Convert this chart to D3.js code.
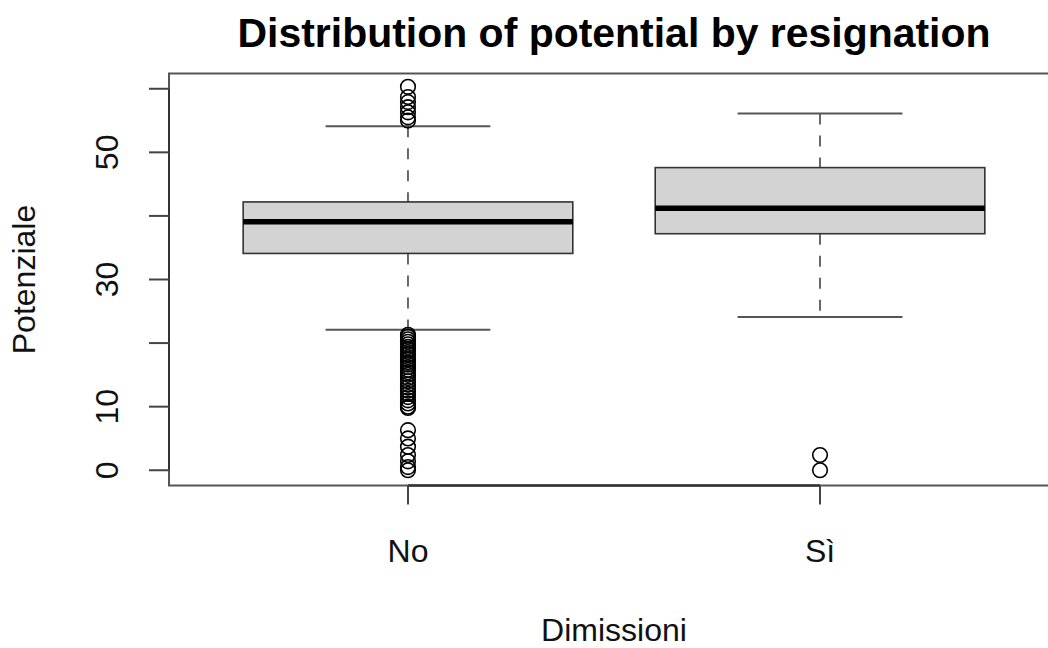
<!DOCTYPE html>
<html>
<head>
<meta charset="utf-8">
<script src="https://cdn.jsdelivr.net/npm/d3@7"></script>
<style>
  html, body { margin: 0; padding: 0; background: #fff; }
  svg { display: block; font-family: "Liberation Sans", Arial, Helvetica, sans-serif; }
</style>
</head>
<body>
<svg id="chart" width="1048" height="648"></svg>
<script>
// Groups on the x axis
const groups = ["No", "Sì"];
// Box statistics per group: lower whisker, Q1, median, Q3, upper whisker
const lowerWhisker = [22.1, 24.1];
const q1 = [34.1, 37.2];
const median = [39.1, 41.2];
const q3 = [42.2, 47.6];
const upperWhisker = [54.1, 56.1];
// Points beyond the whiskers
const outliersNo = [60.3, 58.7, 57.9, 57.1, 56.3, 55.5, 55.0,
  21.3, 21.0, 20.6, 20.2, 19.8, 19.4, 19.0, 18.6, 18.2, 17.8, 17.4, 17.0,
  16.6, 16.2, 15.8, 15.4, 15.0, 14.5, 14.0, 13.5, 13.0, 12.5, 12.0, 11.5,
  11.0, 10.5, 10.0, 9.8,
  6.3, 5.0, 3.7, 2.4, 1.4, 0.5, 0.0];
const outliersSi = [2.4, 0.0];
const outliers = [outliersNo, outliersSi];
// Axis ticks
const yTicks = [0, 10, 20, 30, 40, 50, 60];
const yTickLabels = ["0", "10", "", "30", "", "50", ""];

const svg = d3.select("#chart");

// Plot region (extends past the right edge of the page)
const plotLeft = 169, plotRight = 1059, plotTop = 73.5, plotBottom = 485.5;

const x = d3.scaleLinear().domain([0.42, groups.length + 0.58]).range([plotLeft, plotRight]);
const allVals = lowerWhisker.concat(upperWhisker, outliersNo, outliersSi);
const [lo, hi] = d3.extent(allVals.map(v => Math.round(v)));
const pad = (hi - lo) * 0.04;
const y = d3.scaleLinear().domain([lo - pad, hi + pad]).range([plotBottom, plotTop]);

const lineCol = "#444";
const boxWidth = 0.8, stapleWidth = 0.4;

const g = svg.append("g");

groups.forEach((name, i) => {
  const cx = i + 1;
  // dashed whiskers
  g.append("line")
    .attr("x1", x(cx)).attr("x2", x(cx))
    .attr("y1", y(upperWhisker[i])).attr("y2", y(q3[i]))
    .attr("stroke", lineCol).attr("stroke-width", 1.6).attr("stroke-dasharray", "11,11");
  g.append("line")
    .attr("x1", x(cx)).attr("x2", x(cx))
    .attr("y1", y(q1[i])).attr("y2", y(lowerWhisker[i]))
    .attr("stroke", lineCol).attr("stroke-width", 1.6).attr("stroke-dasharray", "11,11");
  // staples
  [upperWhisker[i], lowerWhisker[i]].forEach(v => {
    g.append("line")
      .attr("x1", x(cx - stapleWidth / 2)).attr("x2", x(cx + stapleWidth / 2))
      .attr("y1", y(v)).attr("y2", y(v))
      .attr("stroke", "#555").attr("stroke-width", 2);
  });
  // box
  g.append("rect")
    .attr("x", x(cx - boxWidth / 2))
    .attr("width", x(cx + boxWidth / 2) - x(cx - boxWidth / 2))
    .attr("y", y(q3[i]))
    .attr("height", y(q1[i]) - y(q3[i]))
    .attr("fill", "#d3d3d3").attr("stroke", "#333").attr("stroke-width", 1.6);
  // median
  g.append("line")
    .attr("x1", x(cx - boxWidth / 2)).attr("x2", x(cx + boxWidth / 2))
    .attr("y1", y(median[i])).attr("y2", y(median[i]))
    .attr("stroke", "#000").attr("stroke-width", 5.5);
  // outliers
  g.selectAll(null).data(outliers[i]).enter().append("circle")
    .attr("cx", x(cx)).attr("cy", d => y(d)).attr("r", 7.3)
    .attr("fill", "none").attr("stroke", "#000").attr("stroke-width", 1.6);
});

// Plot frame
svg.append("rect")
  .attr("x", plotLeft).attr("y", plotTop)
  .attr("width", plotRight - plotLeft).attr("height", plotBottom - plotTop)
  .attr("fill", "none").attr("stroke", "#555").attr("stroke-width", 2);

// Y axis
const yAxis = svg.append("g");
yAxis.append("line")
  .attr("x1", plotLeft).attr("x2", plotLeft)
  .attr("y1", y(yTicks[0])).attr("y2", y(yTicks[yTicks.length - 1]))
  .attr("stroke", "#333").attr("stroke-width", 2);
yTicks.forEach((t, k) => {
  yAxis.append("line")
    .attr("x1", plotLeft - 20).attr("x2", plotLeft)
    .attr("y1", y(t)).attr("y2", y(t))
    .attr("stroke", "#444").attr("stroke-width", 2);
  if (yTickLabels[k]) {
    yAxis.append("text")
      .attr("transform", `translate(118,${y(t)}) rotate(-90)`)
      .attr("text-anchor", "middle")
      .attr("font-size", 32).attr("fill", "#111")
      .text(yTickLabels[k]);
  }
});

// X axis
const xAxis = svg.append("g");
xAxis.append("line")
  .attr("x1", x(1)).attr("x2", x(groups.length))
  .attr("y1", plotBottom).attr("y2", plotBottom)
  .attr("stroke", "#333").attr("stroke-width", 2.5);
groups.forEach((name, i) => {
  xAxis.append("line")
    .attr("x1", x(i + 1)).attr("x2", x(i + 1))
    .attr("y1", plotBottom).attr("y2", plotBottom + 19)
    .attr("stroke", "#444").attr("stroke-width", 2);
  xAxis.append("text")
    .attr("x", x(i + 1)).attr("y", 562)
    .attr("text-anchor", "middle")
    .attr("font-size", 32).attr("fill", "#111")
    .text(name);
});

// Titles
svg.append("text")
  .attr("x", (plotLeft + plotRight) / 2).attr("y", 47)
  .attr("text-anchor", "middle")
  .attr("font-size", 40).attr("font-weight", "bold").attr("fill", "#000")
  .attr("textLength", 753).attr("lengthAdjust", "spacingAndGlyphs")
  .text("Distribution of potential by resignation");

svg.append("text")
  .attr("x", (plotLeft + plotRight) / 2).attr("y", 641)
  .attr("text-anchor", "middle")
  .attr("font-size", 32).attr("fill", "#111")
  .text("Dimissioni");

svg.append("text")
  .attr("transform", `translate(35,${(plotTop + plotBottom) / 2}) rotate(-90)`)
  .attr("text-anchor", "middle")
  .attr("font-size", 32).attr("fill", "#111")
  .text("Potenziale");
</script>
</body>
</html>
